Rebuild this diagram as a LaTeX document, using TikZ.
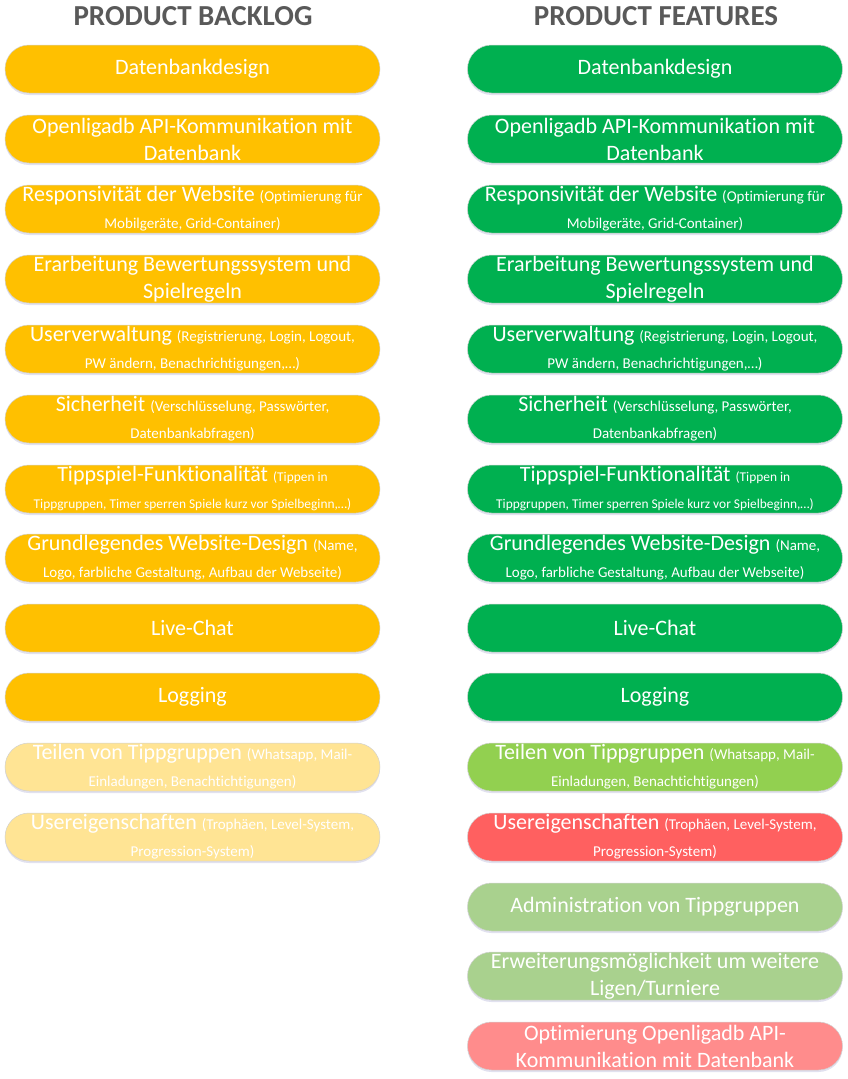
\documentclass[tikz,border=0pt]{standalone}
\usepackage{fontspec}
\setmainfont{Carlito}[Ligatures=NoCommon]
\usepackage{xcolor}
\usepackage{tikz}
\usetikzlibrary{positioning,shadows}
\definecolor{titlegrey}{RGB}{89,89,89}
\definecolor{backlog}{RGB}{255,192,0}
\definecolor{backlogpale}{RGB}{255,228,148}
\definecolor{featgreen}{RGB}{0,176,80}
\definecolor{featlime}{RGB}{146,208,80}
\definecolor{featsage}{RGB}{169,209,142}
\definecolor{featred}{RGB}{255,96,96}
\definecolor{featpink}{RGB}{255,140,140}
\newcommand{\smtxt}[1]{{\fontsize{15}{29}\selectfont #1}}
\newcommand{\tinytxt}[1]{{\fontsize{13.4}{29}\selectfont #1}}
\tikzset{
  pill/.style={draw=black!18,line width=0.5pt,rounded corners=24pt,
               minimum width=375pt,minimum height=48pt,inner sep=0pt,
               align=center,text=white,font=\fontsize{22}{27}\selectfont,
               drop shadow={shadow xshift=0pt,shadow yshift=-2pt,opacity=0.18,fill=blue!30!gray}},
  pillb/.style={pill,fill=backlog},
  pillp/.style={pill,fill=backlogpale},
  pillf/.style={pill,fill=featgreen},
  head/.style={font=\bfseries\fontsize{29}{32}\selectfont,text=titlegrey},
}

\begin{document}
\begin{tikzpicture}[x=1pt,y=-1pt]
  \useasboundingbox (0,0) rectangle (848,1079);

  \node[head] (bhead) at (193,16) {PRODUCT BACKLOG};
  \node[head] (fhead) at (656,16) {PRODUCT FEATURES};

  % backlog
  \node[pillb] (bdb)    at (192.5,69)  {Datenbankdesign};
  \node[pillb] (bapi)   at (192.5,139) {Openligadb API-Kommunikation mit\\Datenbank};
  \node[pillb] (bresp)  at (192.5,209) {Responsivität der Website \smtxt{(Optimierung für}\\\smtxt{Mobilgeräte, Grid-Container)}};
  \node[pillb] (brules) at (192.5,279) {Erarbeitung Bewertungssystem und\\Spielregeln};
  \node[pillb] (buser)  at (192.5,349) {Userverwaltung \smtxt{(Registrierung, Login, Logout,}\\\smtxt{PW ändern, Benachrichtigungen,…)}};
  \node[pillb] (bsec)   at (192.5,419) {Sicherheit \smtxt{(Verschlüsselung, Passwörter,}\\\smtxt{Datenbankabfragen)}};
  \node[pillb] (btipp)  at (192.5,489) {Tippspiel-Funktionalität \tinytxt{(Tippen in}\\\tinytxt{Tippgruppen, Timer sperren Spiele kurz vor Spielbeginn,…)}};
  \node[pillb] (bdes)   at (192.5,558) {Grundlegendes Website-Design \smtxt{(Name,}\\\smtxt{Logo, farbliche Gestaltung, Aufbau der Webseite)}};
  \node[pillb] (bchat)  at (192.5,628) {Live-Chat};
  \node[pillb] (blog)   at (192.5,697) {Logging};
  \node[pillp] (bshare) at (192.5,767) {Teilen von Tippgruppen \smtxt{(Whatsapp, Mail-}\\\smtxt{Einladungen, Benachtichtigungen)}};
  \node[pillp] (bprop)  at (192.5,837) {Usereigenschaften \smtxt{(Trophäen, Level-System,}\\\smtxt{Progression-System)}};

  % features
  \node[pillf] (fdb)    at (655,69)  {Datenbankdesign};
  \node[pillf] (fapi)   at (655,139) {Openligadb API-Kommunikation mit\\Datenbank};
  \node[pillf] (fresp)  at (655,209) {Responsivität der Website \smtxt{(Optimierung für}\\\smtxt{Mobilgeräte, Grid-Container)}};
  \node[pillf] (frules) at (655,279) {Erarbeitung Bewertungssystem und\\Spielregeln};
  \node[pillf] (fuser)  at (655,349) {Userverwaltung \smtxt{(Registrierung, Login, Logout,}\\\smtxt{PW ändern, Benachrichtigungen,…)}};
  \node[pillf] (fsec)   at (655,419) {Sicherheit \smtxt{(Verschlüsselung, Passwörter,}\\\smtxt{Datenbankabfragen)}};
  \node[pillf] (ftipp)  at (655,489) {Tippspiel-Funktionalität \tinytxt{(Tippen in}\\\tinytxt{Tippgruppen, Timer sperren Spiele kurz vor Spielbeginn,…)}};
  \node[pillf] (fdes)   at (655,558) {Grundlegendes Website-Design \smtxt{(Name,}\\\smtxt{Logo, farbliche Gestaltung, Aufbau der Webseite)}};
  \node[pillf] (fchat)  at (655,628) {Live-Chat};
  \node[pillf] (flog)   at (655,697) {Logging};
  \node[pill,fill=featlime] (fshare) at (655,767) {Teilen von Tippgruppen \smtxt{(Whatsapp, Mail-}\\\smtxt{Einladungen, Benachtichtigungen)}};
  \node[pill,fill=featred]  (fprop)  at (655,837) {Usereigenschaften \smtxt{(Trophäen, Level-System,}\\\smtxt{Progression-System)}};
  \node[pill,fill=featsage] (fadmin) at (655,907) {Administration von Tippgruppen};
  \node[pill,fill=featsage] (fligen) at (655,976) {Erweiterungsmöglichkeit um weitere\\Ligen/Turniere};
  \node[pill,fill=featpink] (fopt)   at (655,1046) {Optimierung Openligadb API-\\Kommunikation mit Datenbank};
\end{tikzpicture}
\end{document}
